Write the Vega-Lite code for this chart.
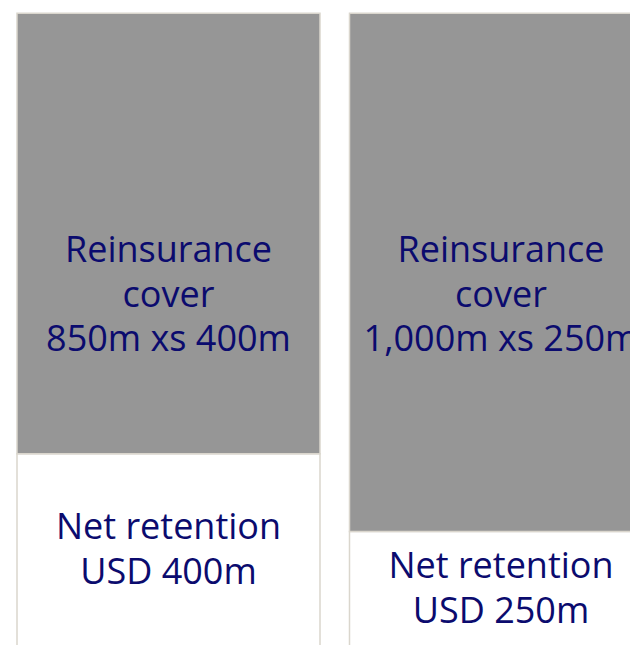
{
  "$schema": "https://vega.github.io/schema/vega-lite/v6.json",
  "width": 630,
  "height": 645,
  "padding": 0,
  "autosize": {"type": "none"},
  "background": "white",
  "config": {"view": {"stroke": null}},
  "data": {
    "values": [
      {"bar": "A", "part": "Net retention", "order": 1, "value": 400, "label": "Net retention\nUSD 400m"},
      {"bar": "A", "part": "Reinsurance cover", "order": 2, "value": 850, "label": "Reinsurance\ncover\n850m xs 400m"},
      {"bar": "B", "part": "Net retention", "order": 1, "value": 250, "label": "Net retention\nUSD 250m"},
      {"bar": "B", "part": "Reinsurance cover", "order": 2, "value": 1000, "label": "Reinsurance\ncover\n1,000m xs 250m"}
    ]
  },
  "encoding": {
    "x": {
      "field": "bar",
      "type": "nominal",
      "axis": null,
      "scale": {"range": [17, 652.5], "paddingInner": 0.0887, "paddingOuter": 0}
    }
  },
  "layer": [
    {
      "mark": {"type": "bar", "stroke": "#dad6cd", "strokeWidth": 1.5, "clip": true},
      "encoding": {
        "y": {"field": "value", "type": "quantitative", "stack": "zero", "axis": null, "scale": {"domain": [30.9, 1275.8]}},
        "order": {"field": "order", "type": "quantitative"},
        "color": {
          "field": "part",
          "type": "nominal",
          "legend": null,
          "scale": {"domain": ["Net retention", "Reinsurance cover"], "range": ["#ffffff", "#969696"]}
        }
      }
    },
    {
      "mark": {"type": "text", "font": "Open Sans", "fontSize": 36, "lineHeight": 44.5, "lineBreak": "\n", "color": "#0b0b6e", "align": "center", "baseline": "middle", "dy": 238},
      "encoding": {
        "y": {"field": "value", "type": "quantitative", "stack": "zero", "axis": null, "scale": {"domain": [30.9, 1275.8]}},
        "order": {"field": "order", "type": "quantitative"},
        "detail": {"field": "part"},
        "text": {"condition": {"test": "datum.part === 'Reinsurance cover'", "field": "label"}, "value": ""}
      }
    },
    {
      "mark": {"type": "text", "font": "Open Sans", "fontSize": 36, "lineHeight": 44.5, "lineBreak": "\n", "color": "#0b0b6e", "align": "center", "baseline": "middle", "dy": -29},
      "encoding": {
        "y": {"field": "value", "type": "quantitative", "stack": "zero", "bandPosition": 0.5, "axis": null, "scale": {"domain": [30.9, 1275.8]}},
        "order": {"field": "order", "type": "quantitative"},
        "detail": {"field": "part"},
        "text": {"condition": {"test": "datum.part === 'Net retention'", "field": "label"}, "value": ""}
      }
    }
  ]
}
